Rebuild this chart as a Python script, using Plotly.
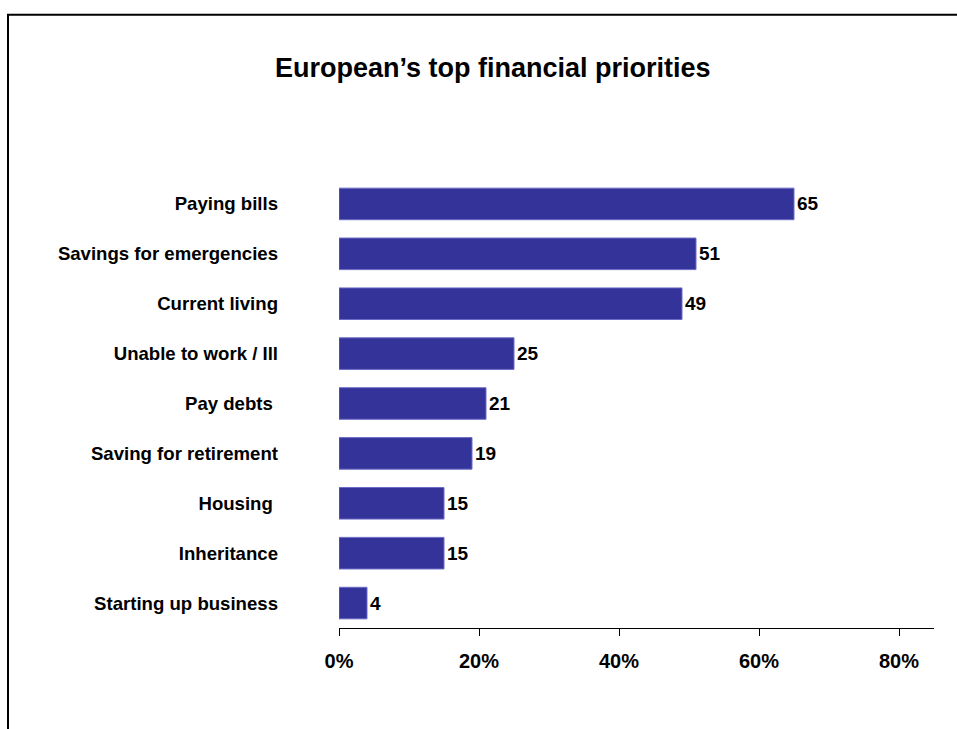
import plotly.graph_objects as go

# Survey shares (%) by priority, listed top to bottom as displayed
categories = [
    "Paying bills",
    "Savings for emergencies",
    "Current living",
    "Unable to work / Ill",
    "Pay debts ",
    "Saving for retirement",
    "Housing ",
    "Inheritance",
    "Starting up business",
]
values = [65, 51, 49, 25, 21, 19, 15, 15, 4]
x_ticks = [0, 20, 40, 60, 80]
x_tick_labels = ["0%", "20%", "40%", "60%", "80%"]

FONT = "Liberation Sans, Arial, sans-serif"
BAR = "#333399"

fig = go.Figure(
    go.Bar(
        x=values,
        y=categories,
        orientation="h",
        width=0.633,
        marker=dict(color=BAR, line=dict(color="#6c6cc8", width=1)),
        text=[f"<b>{v}</b>" for v in values],
        textposition="outside",
        textfont=dict(family=FONT, size=19, color="black"),
        cliponaxis=False,
        hoverinfo="skip",
    )
)

fig.update_layout(
    width=957,
    height=729,
    margin=dict(l=339, r=23, t=179, b=101),
    paper_bgcolor="white",
    plot_bgcolor="white",
    showlegend=False,
    font=dict(family=FONT, color="black"),
    title=dict(
        text="<b>European’s top financial priorities</b>",
        font=dict(family=FONT, size=27, color="black"),
        xref="container",
        x=0.515,
        xanchor="center",
        yref="container",
        y=1 - 68 / 729,
        yanchor="middle",
    ),
    xaxis=dict(
        range=[0, 85],
        tickvals=x_ticks,
        ticktext=[f"<b>{t}</b>" for t in x_tick_labels],
        tickfont=dict(family=FONT, size=20, color="black"),
        ticks="outside",
        ticklen=7,
        tickwidth=1,
        tickcolor="black",
        showline=True,
        linecolor="black",
        linewidth=1,
        showgrid=False,
        zeroline=False,
        fixedrange=True,
        ticklabelstandoff=8,
    ),
    yaxis=dict(
        categoryorder="array",
        categoryarray=categories[::-1],
        range=[-0.5, len(categories) - 0.5],
        tickvals=categories,
        ticktext=[f"<b>{c}</b>" for c in categories],
        tickfont=dict(family=FONT, size=18.6, color="black"),
        showline=False,
        showgrid=False,
        zeroline=False,
        ticks="",
        ticklabelstandoff=60,
        fixedrange=True,
    ),
    bargap=0.367,
)

# Outer frame around the chart (left and top edges are within the page)
fig.add_shape(
    type="rect",
    xref="paper",
    yref="paper",
    x0=(8 - 339) / 595,
    x1=1.2,
    y0=-0.4,
    y1=(628.3 - 15) / 449.1,
    line=dict(color="black", width=2),
    fillcolor="rgba(0,0,0,0)",
    layer="below",
)

fig.write_html("out.html")
